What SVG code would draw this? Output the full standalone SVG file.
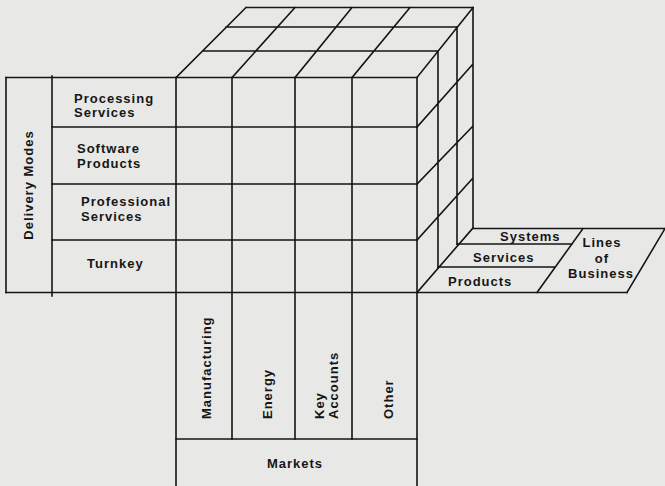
<svg xmlns="http://www.w3.org/2000/svg" width="665" height="486" viewBox="0 0 665 486">
<style>
.ln{stroke:#151515;stroke-width:1.6;fill:none;stroke-linecap:square}
.t{font-family:"Liberation Sans",Arial,sans-serif;font-weight:bold;font-size:13px;letter-spacing:1px;fill:#161616}
.m{text-anchor:middle}
</style>
<rect width="665" height="486" fill="#e8e8e6"/>
<g id="connectors" class="ln">
<!-- long shared lines -->
<path d="M6,77.5H417M6,292.5H627M52,127H417M52,184H417M52,240H417"/>
</g>
<g id="delivery-modes">
<path class="ln" d="M6,77.5V292.5M52,76V296"/>
<text class="t m" transform="translate(33,185) rotate(-90)">Delivery Modes</text>
</g>
<g id="processing-services">
<text class="t" x="74" y="103">Processing</text>
<text class="t" x="74" y="117">Services</text>
</g>
<g id="software-products">
<text class="t" x="77" y="153">Software</text>
<text class="t" x="77" y="168">Products</text>
</g>
<g id="professional-services">
<text class="t" x="81" y="206">Professional</text>
<text class="t" x="81" y="221">Services</text>
</g>
<g id="turnkey">
<text class="t" x="87" y="268">Turnkey</text>
</g>
<g id="cube">
<!-- front face verticals -->
<path class="ln" d="M176,77.5V486M232,77.5V439M295,77.5V439M352,77.5V439M417,77.5V486"/>
<!-- top face -->
<path class="ln" d="M246,7.5H473M226,27H457M203,51H438M176,77.5L246,7.5M232,77.5L295,7.5M295,77.5L352,7.5M352,77.5L410,7.5M417,77.5L473,7.5"/>
<!-- right face -->
<path class="ln" d="M473,7.5V228M457,27V244M438,51V267M417,127L473,64M417,184L473,126M417,240L473,178M417,292.5L473,228"/>
</g>
<g id="markets">
<path class="ln" d="M176,439H417"/>
<text class="t" transform="translate(211,419) rotate(-90)">Manufacturing</text>
<text class="t" transform="translate(272,419) rotate(-90)">Energy</text>
<text class="t" transform="translate(324,419) rotate(-90)">Key</text>
<text class="t" transform="translate(338,419) rotate(-90)">Accounts</text>
<text class="t" transform="translate(393,419) rotate(-90)">Other</text>
<text class="t m" x="295" y="468">Markets</text>
</g>
<g id="lines-of-business">
<path class="ln" d="M473,228.5H665M457,244H572M438,267H555M583,228.5L537,292.5M665,228.5L627,292.5"/>
<text class="t" x="500" y="241">Systems</text>
<text class="t" x="473" y="262">Services</text>
<text class="t" x="448" y="286">Products</text>
<text class="t m" x="602" y="247">Lines</text>
<text class="t m" x="602" y="263">of</text>
<text class="t m" x="601" y="278">Business</text>
</g>
</svg>
